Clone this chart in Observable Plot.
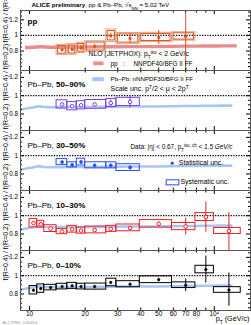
<!DOCTYPE html>
<html>
<head>
<meta charset="utf-8">
<script src="https://cdn.jsdelivr.net/npm/d3@7"></script>
<script src="https://cdn.jsdelivr.net/npm/@observablehq/plot@0.6"></script>
<style>
  html, body { margin: 0; padding: 0; background: #fff; }
  #chart svg { display: block; overflow: visible; }
</style>
</head>
<body>
<div id="chart"></div>
<script>
// ---------- data ----------
// coarse binning (pp, 50-90%, 30-50%)
const coarsePt = [15, 17, 19, 22.5, 27.5, 35, 50, 70];
const coarseLo = [14, 16, 18, 20, 26, 29.5, 39.5, 59];
const coarseHi = [16, 18, 20, 26, 29.5, 39.5, 59, 79];
// fine binning (10-30%, 0-10%)
const finePt = [10.5, 11.5, 13, 15, 17, 19, 22.5, 27.5, 35, 50, 70, 90, 120];
const fineLo = [10, 11, 12, 14, 16, 18, 20, 26, 29.5, 39.5, 59, 79, 99.5];
const fineHi = [11, 12, 14, 16, 18, 20, 26, 29.5, 39.5, 59, 79, 99.5, 139];

// pp
const ppVal    = [0.815, 0.82, 0.84, 0.858, 0.996, 0.961, 0.974, 0.987];
const ppSys    = [0.065, 0.068, 0.066, 0.068, 0.08, 0.07, 0.06, 0.054];
const ppStatLo = [0.02, 0.02, 0.03, 0.03, 0.035, 0.06, 0.09, 0.45];
const ppStatHi = [0.02, 0.02, 0.03, 0.03, 0.035, 0.06, 0.09, 0.3];

// Pb-Pb 50-90%
const c5090Val    = [0.905, 0.885, 0.895, 0.905, 0.92, 0.932];
const c5090Sys    = [0.045, 0.045, 0.045, 0.048, 0.045, 0.045];
const c5090StatLo = [0.01, 0.015, 0.02, 0.015, 0.035, 0.065];
const c5090StatHi = [0.01, 0.015, 0.02, 0.015, 0.035, 0.065];

// Pb-Pb 30-50%
const c3050Val    = [0.93, 0.9, 0.93, 0.895, 0.895, 0.87];
const c3050Sys    = [0.033, 0.028, 0.037, 0.033, 0.033, 0.037];
const c3050StatLo = [0.008, 0.01, 0.02, 0.008, 0.01, 0.02];
const c3050StatHi = [0.008, 0.01, 0.02, 0.008, 0.01, 0.02];

// Pb-Pb 10-30%
const c1030Val    = [0.919, 0.907, 0.859, 0.826, 0.852, 0.837, 0.844, 0.856, 0.867, 0.911, 0.881, 0.985, 0.833];
const c1030Sys    = [0.046, 0.037, 0.037, 0.028, 0.037, 0.033, 0.037, 0.033, 0.037, 0.041, 0.039, 0.043, 0.033];
const c1030StatLo = [0.012, 0.012, 0.01, 0.01, 0.01, 0.012, 0.01, 0.01, 0.012, 0.02, 0.093, 0.165, 0.4];
const c1030StatHi = [0.012, 0.012, 0.01, 0.01, 0.01, 0.012, 0.01, 0.01, 0.012, 0.02, 0.093, 0.165, 0.2];

// Pb-Pb 0-10%
const c010Val    = [0.841, 0.859, 0.87, 0.881, 0.889, 0.881, 0.881, 0.926, 0.907, 0.956, 0.896, 1.067, 0.844];
const c010Sys    = [0.046, 0.046, 0.03, 0.031, 0.033, 0.031, 0.033, 0.041, 0.033, 0.037, 0.031, 0.041, 0.031];
const c010StatLo = [0.01, 0.01, 0.008, 0.008, 0.008, 0.008, 0.008, 0.01, 0.01, 0.015, 0.069, 0.148, 0.178];
const c010StatHi = [0.01, 0.01, 0.008, 0.008, 0.008, 0.008, 0.008, 0.01, 0.01, 0.015, 0.069, 0.148, 0.185];

// NLO JETPHOX bands
const ppNloPt  = [9.5, 10.5, 11.5, 13, 15, 20, 30, 40, 60, 80, 100, 133];
const ppNloVal = [0.838, 0.842, 0.848, 0.842, 0.843, 0.846, 0.848, 0.85, 0.853, 0.856, 0.858, 0.86];
const ppNloUnc = [0.022, 0.022, 0.022, 0.022, 0.022, 0.022, 0.022, 0.022, 0.022, 0.022, 0.022, 0.022];
const aaNloPt  = [8.93, 9.5, 10.5, 11.3, 12, 13, 15, 20, 30, 40, 60, 80, 100, 126];
const aaNloVal = [0.84, 0.852, 0.866, 0.878, 0.872, 0.868, 0.87, 0.872, 0.875, 0.877, 0.88, 0.882, 0.884, 0.886];
const aaNloUnc = [0.014, 0.014, 0.014, 0.014, 0.014, 0.014, 0.014, 0.014, 0.014, 0.014, 0.014, 0.014, 0.014, 0.014];

// axis ticks / labels
const yMajor = [0.8, 1, 1.2];
const yMinorAll = [0.55, 0.6, 0.65, 0.7, 0.75, 0.85, 0.9, 0.95, 1.05, 1.1, 1.15, 1.25, 1.3];
const xMajor = [10, 100];
const xMid = [20, 30, 40, 50, 60, 70, 80, 90];
const xLabelVals = [10, 20, 30, 40, 50, 60, 70, 80, 100];
const xLabelText = ["10", "20", "30", "40", "50", "60", "70", "80", "10^{2}"];
const xDomain = [8.93, 157];

// ---------- helpers ----------
const W = 251, ML = 20, MR = 1, PH = 60;
const PW = W - ML - MR;
const FONT = "'Liberation Sans', Arial, Helvetica, sans-serif";
const yTitle = "f(R=0.4) / f(R=0.2)";

function rows(pt, lo, hi, v, sys, sl, sh) {
  return pt.map((p, i) => ({pt: p, lo: lo[i], hi: hi[i], v: v[i], sys: sys[i], sl: sl[i], sh: sh[i]}));
}
function band(pt, v, w) { return pt.map((p, i) => ({pt: p, v: v[i], w: w[i]})); }

function dataMarks(r, color, open, r0 = 1.7) {
  return [
    Plot.rect(r, {x1: "lo", x2: "hi", y1: d => d.v - d.sys, y2: d => d.v + d.sys, stroke: color, fill: "none", strokeWidth: 1, clip: true}),
    Plot.ruleX(r, {x: "pt", y1: d => d.v - d.sl, y2: d => d.v + d.sh, stroke: color, strokeWidth: 1, clip: true}),
    Plot.dot(r, {x: "pt", y: "v", r: r0, stroke: color, fill: open ? "white" : color, strokeWidth: open ? 1 : 0.5, clip: true})
  ];
}
function bandMark(b, fill) {
  return Plot.areaY(b, {x: "pt", y1: d => d.v - d.w, y2: d => d.v + d.w, fill, curve: "monotone-x", clip: true});
}
function label(text, dx, dy, opts = {}) {
  return Plot.text([text], {frameAnchor: "top-left", textAnchor: "start", lineAnchor: "middle", dx, dy, fontSize: 6.4, fill: "#000", ...opts});
}

function makePanel({yDomain, marginTop = 0, marginBottom = 0, titleDy = 0, marks}) {
  const yMinor = yMinorAll.filter(v => v > yDomain[0] && v < yDomain[1]);
  return Plot.plot({
    width: W, height: PH + marginTop + marginBottom,
    marginLeft: ML, marginRight: MR, marginTop, marginBottom,
    x: {type: "log", domain: xDomain, axis: null},
    y: {domain: yDomain, axis: null},
    style: {fontFamily: FONT, fontSize: "6px", background: "white", overflow: "visible", color: "#000"},
    marks: [
      ...marks,
      Plot.tickY(yMajor, {y: d => d, stroke: "#000", insetRight: PW - 4}),
      Plot.tickY(yMajor, {y: d => d, stroke: "#000", insetLeft: PW - 4}),
      Plot.tickY(yMinor, {y: d => d, stroke: "#000", insetRight: PW - 2}),
      Plot.tickY(yMinor, {y: d => d, stroke: "#000", insetLeft: PW - 2}),
      Plot.tickX(xMajor, {x: d => d, stroke: "#000", insetTop: PH - 4}),
      Plot.tickX(xMajor, {x: d => d, stroke: "#000", insetBottom: PH - 4}),
      Plot.tickX(xMid, {x: d => d, stroke: "#000", insetTop: PH - 2.5}),
      Plot.tickX(xMid, {x: d => d, stroke: "#000", insetBottom: PH - 2.5}),
      Plot.frame({stroke: "#555", strokeWidth: 1}),
      Plot.text(yMajor, {y: d => d, text: d => String(d), frameAnchor: "left", textAnchor: "end", dx: -2.5, fontSize: 6.3}),
      Plot.text([yTitle], {frameAnchor: "left", rotate: -90, dx: -14.5, dy: titleDy, fontSize: 7})
    ]
  });
}

function dotted() {
  return Plot.ruleY([1], {stroke: "#000", strokeWidth: 1.3, strokeDasharray: "1.3,1.3"});
}

// rich text: _{sub} ^{sup} *{bold} ~{italic}
function richify(svg) {
  svg.querySelectorAll("text").forEach(t => {
    const s = t.textContent;
    if (!/[_^*~]\{/.test(s)) return;
    while (t.firstChild) t.removeChild(t.firstChild);
    const re = /([_^*~])\{([^}]*)\}|([^_^*~]+|[_^*~])/g;
    let m;
    while ((m = re.exec(s))) {
      const ts = document.createElementNS("http://www.w3.org/2000/svg", "tspan");
      if (m[1]) {
        ts.textContent = m[2];
        if (m[1] === "_") { ts.setAttribute("baseline-shift", "sub"); ts.setAttribute("font-size", "70%"); }
        else if (m[1] === "^") { ts.setAttribute("baseline-shift", "super"); ts.setAttribute("font-size", "70%"); }
        else if (m[1] === "*") { ts.setAttribute("font-weight", "bold"); }
        else { ts.setAttribute("font-style", "italic"); }
      } else ts.textContent = m[3];
      t.appendChild(ts);
    }
  });
}

// ---------- colours ----------
const cPP = "#d9531e", cPPlight = "#eda07c", cPPband = "#e88c8c";
const c5090 = "#7a3ee6", c3050 = "#2a4ee8", c1030 = "#ee2020", c010 = "#000000";
const cAAband = "#a9c5f5";

// ---------- panels ----------
const ppRows = rows(coarsePt, coarseLo, coarseHi, ppVal, ppSys, ppStatLo, ppStatHi);
const aaBand = band(aaNloPt, aaNloVal, aaNloUnc);

const p1 = makePanel({
  yDomain: [0.55, 1.32], marginTop: 10, titleDy: 2,
  marks: [
    bandMark(band(ppNloPt, ppNloVal, ppNloUnc), cPPband),
    dotted(),
    Plot.rect(ppRows, {x1: "lo", x2: "hi", y1: d => d.v - d.sys, y2: d => d.v + d.sys, stroke: cPPlight, fill: "none", strokeWidth: 1, clip: true}),
    Plot.rect(ppRows, {x1: "lo", x2: "hi", y1: d => d.v - d.sys * 0.75, y2: d => d.v + d.sys * 0.75, insetLeft: 1.5, insetRight: 1.5, stroke: cPP, fill: "none", strokeWidth: 1, clip: true}),
    Plot.ruleX(ppRows, {x: "pt", y1: d => d.v - d.sl, y2: d => d.v + d.sh, stroke: cPP, strokeWidth: 1, clip: true}),
    Plot.dot(ppRows, {x: "pt", y: "v", r: 1.6, fill: cPP, clip: true}),
    label("*{pp}", 7, 11, {fontSize: 8}),
    label("*{ALICE preliminary}, pp & Pb–Pb, √s_{NN} = 5.02 TeV", 11, -5, {fontSize: 6.2}),
    label("NLO (JETPHOX): p_{T}^{iso} < 2 GeV/c", 68, 43.3, {fontSize: 6.8}),
    Plot.frame({fill: cPPband, stroke: null, insetLeft: 72.7, insetRight: 147, insetTop: 51, insetBottom: 5.3}),
    label("pp", 90, 53),
    label(":", 103, 53),
    label("NNPDF40/BFG II FF", 113, 53)
  ]
});

const p2 = makePanel({
  yDomain: [0.62, 1.275],
  marks: [
    bandMark(aaBand, cAAband),
    dotted(),
    ...dataMarks(rows(coarsePt.slice(0, 6), coarseLo.slice(0, 6), coarseHi.slice(0, 6), c5090Val, c5090Sys, c5090StatLo, c5090StatHi), c5090, true, 1.8),
    label("Pb–Pb, *{50–90%}", 7, 14, {fontSize: 8}),
    Plot.frame({fill: cAAband, stroke: null, insetLeft: 71.7, insetRight: 146.7, insetTop: 6.7, insetBottom: 49.3}),
    label("Pb–Pb: nNNPDF30/BFG II FF", 90, 9, {fontSize: 6.2}),
    label("Scale unc. p^{T}/2 < μ < 2p^{T}", 90, 18.3, {fontSize: 7})
  ]
});

const p3 = makePanel({
  yDomain: [0.62, 1.275],
  marks: [
    bandMark(aaBand, cAAband),
    dotted(),
    ...dataMarks(rows(coarsePt.slice(0, 6), coarseLo.slice(0, 6), coarseHi.slice(0, 6), c3050Val, c3050Sys, c3050StatLo, c3050StatHi), c3050, false, 1.6),
    label("Pb–Pb, *{30–50%}", 7, 15, {fontSize: 8}),
    label("Data: |η| < 0.67, p_{T}^{iso, ch} ~{< 1.5 GeV/c}", 110, 16.7, {fontSize: 6.4}),
    Plot.dot([null], {x: null, y: null, frameAnchor: "top-left", dx: 151.7, dy: 32.7, r: 1.6, fill: c3050}),
    label("Statistical unc.", 158.3, 32.7, {fontSize: 6.9}),
    Plot.frame({fill: "none", stroke: c3050, insetLeft: 145.7, insetRight: 71.7, insetTop: 49.3, insetBottom: 5.7}),
    label("Systematic unc.", 160, 51.7, {fontSize: 6.9})
  ]
});

const p4 = makePanel({
  yDomain: [0.62, 1.275],
  marks: [
    bandMark(aaBand, cAAband),
    dotted(),
    ...dataMarks(rows(finePt, fineLo, fineHi, c1030Val, c1030Sys, c1030StatLo, c1030StatHi), c1030, true, 1.8),
    label("Pb–Pb, *{10–30%}", 7, 15, {fontSize: 8})
  ]
});

const xLabels = xLabelVals.map((v, i) => ({v, t: xLabelText[i]}));
const p5 = makePanel({
  yDomain: [0.62, 1.275], marginBottom: 15,
  marks: [
    bandMark(aaBand, cAAband),
    dotted(),
    ...dataMarks(rows(finePt, fineLo, fineHi, c010Val, c010Sys, c010StatLo, c010StatHi), c010, false, 1.3),
    label("Pb–Pb, *{0–10%}", 7, 15, {fontSize: 8}),
    Plot.text(xLabels, {x: "v", text: "t", frameAnchor: "bottom", lineAnchor: "top", dy: 0.5, fontSize: 6.5}),
    Plot.text(["p_{T} (GeV/c)"], {frameAnchor: "bottom-right", textAnchor: "end", lineAnchor: "middle", dx: -1, dy: 8.5, fontSize: 7.2}),
    Plot.text(["ALI-PREL-545654"], {frameAnchor: "bottom-left", textAnchor: "start", lineAnchor: "middle", dx: -18, dy: 12, fontSize: 4.3, fill: "#999"})
  ]
});

const chart = document.getElementById("chart");
for (const p of [p1, p2, p3, p4, p5]) { richify(p); chart.appendChild(p); }
</script>
</body>
</html>
